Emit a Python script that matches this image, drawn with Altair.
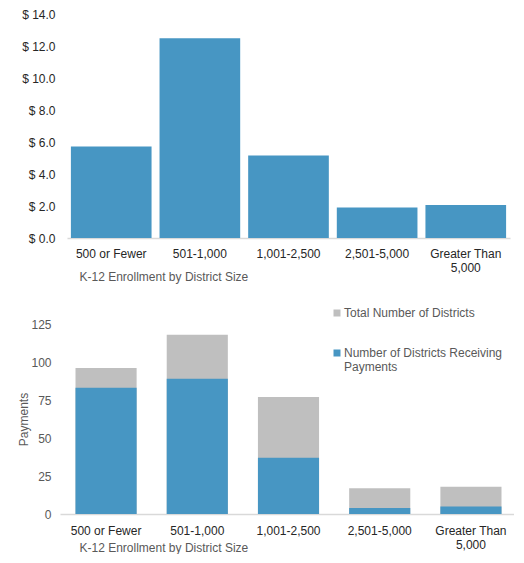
import altair as alt
import pandas as pd

categories = ["500 or Fewer", "501-1,000", "1,001-2,500", "2,501-5,000", "Greater Than 5,000"]
payments = [5.72, 12.48, 5.15, 1.9, 2.07]
total_districts = [96, 118, 77, 17, 18]
receiving_districts = [83, 89, 37, 4, 5]

series_names = ["Total Number of Districts", "Number of Districts Receiving Payments"]
series_colors = ["#bfbfbf", "#4796c3"]

df_top = pd.DataFrame({"cat": categories, "val": payments})
rows = []
for c, t in zip(categories, total_districts):
    rows.append({"cat": c, "series": series_names[0], "val": t, "ord": 0})
for c, r in zip(categories, receiving_districts):
    rows.append({"cat": c, "series": series_names[1], "val": r, "ord": 1})
df_bot = pd.DataFrame(rows)

FONT = "Liberation Sans"
x_label_expr = "datum.label == 'Greater Than 5,000' ? ['Greater Than', '5,000'] : datum.label"

def x_axis(label_pad, title_y):
    return alt.Axis(
        title="K-12 Enrollment by District Size",
        labelAngle=0, labelFontSize=12, labelColor="#262626", labelFont=FONT,
        labelExpr=x_label_expr, labelLineHeight=14, labelPadding=label_pad,
        ticks=False, tickSize=0, domainColor="#d9d9d9", domainWidth=1.5,
        titleFontSize=12, titleFontWeight="normal", titleColor="#595959", titleFont=FONT,
        titleAlign="left", titleAnchor="start", titleX=12, titleY=title_y, titleBaseline="top",
        grid=False,
    )

top = alt.Chart(df_top).mark_bar(color="#4796c3").encode(
    x=alt.X("cat:N", sort=categories,
            scale=alt.Scale(paddingInner=0.09, paddingOuter=0.044),
            axis=x_axis(10, 33)),
    y=alt.Y("val:Q", scale=alt.Scale(domain=[0, 14], nice=False),
            axis=alt.Axis(title=None, values=[0, 2, 4, 6, 8, 10, 12, 14],
                          labelExpr="'$ ' + format(datum.value, '.1f')",
                          labelFontSize=12, labelColor="#262626", labelFont=FONT,
                          labelPadding=12, ticks=False, domain=False, grid=False,
                          minExtent=49)),
).properties(width=443, height=224)

bottom = alt.Chart(df_bot).mark_bar().encode(
    x=alt.X("cat:N", sort=categories,
            scale=alt.Scale(paddingInner=0.33, paddingOuter=0.17, range=[-7, 450]),
            axis=x_axis(11, 28)),
    y=alt.Y("val:Q", stack=None, scale=alt.Scale(domain=[0, 125], nice=False),
            axis=alt.Axis(title="Payments", values=[0, 25, 50, 75, 100, 125],
                          labelFontSize=12, labelColor="#595959", labelFont=FONT,
                          labelPadding=16, ticks=False, domain=False, grid=False,
                          maxExtent=35, minExtent=35,
                          titleFontSize=12, titleFontWeight="normal", titleColor="#595959",
                          titleFont=FONT, titlePadding=2)),
    color=alt.Color("series:N", sort=series_names,
                    scale=alt.Scale(domain=series_names, range=series_colors),
                    legend=alt.Legend(title=None, orient="none", legendX=264, legendY=293,
                                      symbolType="square", symbolSize=49, symbolStrokeWidth=0,
                                      labelFontSize=12, labelColor="#595959", labelFont=FONT,
                                      labelLimit=300, labelOffset=1, rowPadding=28,
                                      labelExpr="datum.label == 'Number of Districts Receiving Payments' ? ['Number of Districts Receiving', 'Payments'] : datum.label",
                                      padding=0)),
    order=alt.Order("ord:Q"),
).properties(width=450, height=190)

chart = alt.vconcat(top, bottom, spacing=36).properties(
    padding={"left": 9, "top": 0, "right": -10, "bottom": 1}
).configure(font=FONT, view=alt.ViewConfig(stroke=None))

chart.save("out.html", embed_options={"renderer": "svg", "actions": False})
